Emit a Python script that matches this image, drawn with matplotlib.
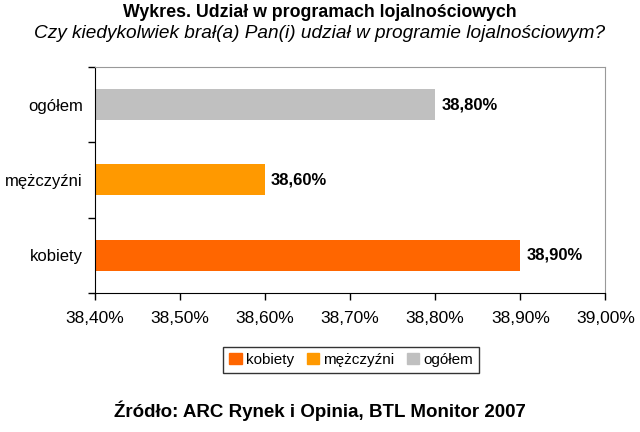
import matplotlib.pyplot as plt
from matplotlib.patches import Patch

plt.rcParams['font.family'] = ['Liberation Sans', 'DejaVu Sans']

categories = ['kobiety', 'mężczyźni', 'ogółem']
values = [38.90, 38.60, 38.80]
colors = ['#FF6600', '#FF9900', '#C0C0C0']
xticks = [38.4, 38.5, 38.6, 38.7, 38.8, 38.9, 39.0]

fig = plt.figure(figsize=(6.4, 4.32), dpi=100)
ax = fig.add_axes([0.148, 0.322, 0.798, 0.523])

base = 38.4
ypos = list(range(len(categories)))
ax.barh(ypos, [v - base for v in values], left=base, height=0.41, color=colors)

for y, v in zip(ypos, values):
    ax.text(v + 0.007, y, ('%.2f%%' % v).replace('.', ','), va='center', ha='left',
            fontsize=12, fontweight='bold')

ax.set_xlim(38.4, 39.0)
ax.set_ylim(-0.5, 2.5)
ax.set_xticks(xticks)
ax.set_xticklabels([('%.2f%%' % t).replace('.', ',') for t in xticks], fontsize=12.5)
ax.set_yticks(ypos)
ax.set_yticklabels(categories, fontsize=12)
ax.set_yticks([-0.5, 0.5, 1.5, 2.5], minor=True)
ax.tick_params(axis='y', which='major', length=0, pad=8.5)
ax.tick_params(axis='y', which='minor', length=5, width=1)
ax.tick_params(axis='x', length=5, width=1, pad=8)

for s in ['top', 'right']:
    ax.spines[s].set_color('#999999')
for s in ['left', 'bottom']:
    ax.spines[s].set_color('black')

fig.text(0.5, 0.97, 'Wykres. Udział w programach lojalnościowych', ha='center', va='center',
         fontsize=12.8, fontweight='bold')
fig.text(0.5, 0.922, 'Czy kiedykolwiek brał(a) Pan(i) udział w programie lojalnościowym?',
         ha='center', va='center', fontsize=13.7, style='italic')

handles = [Patch(color=c, label=l) for c, l in zip(colors, categories)]
leg = fig.legend(handles=handles, loc='center', bbox_to_anchor=(0.549, 0.167), ncol=3,
                 fontsize=11, frameon=True, fancybox=False, edgecolor='black',
                 handlelength=0.8, handleheight=0.8, handletextpad=0.3, columnspacing=0.8,
                 borderpad=0.4)
leg.get_frame().set_linewidth(1)

fig.text(0.5, 0.05, 'Źródło: ARC Rynek i Opinia, BTL Monitor 2007', ha='center', va='center',
         fontsize=13.5, fontweight='bold')

plt.savefig('out.png', dpi=100)
